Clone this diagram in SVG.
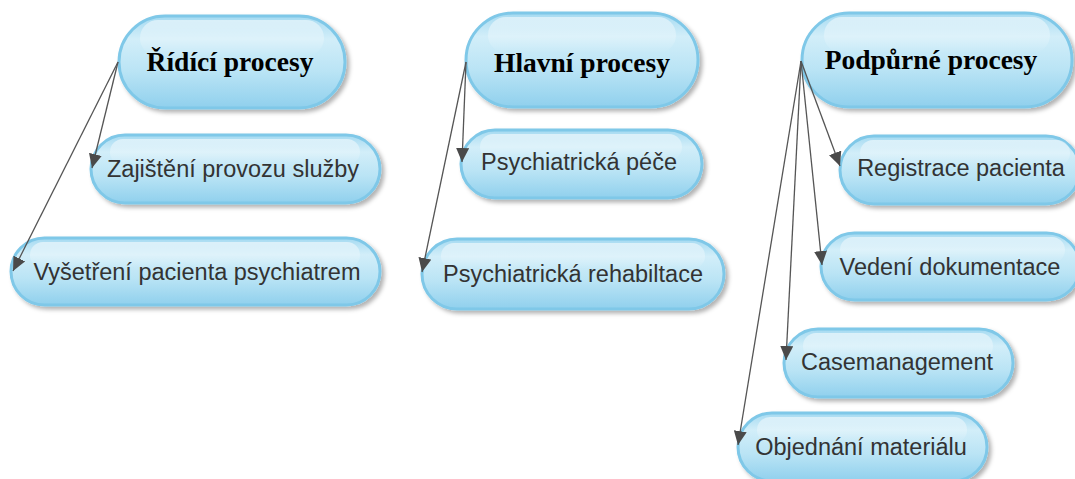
<svg xmlns="http://www.w3.org/2000/svg" width="1075" height="479" viewBox="0 0 1075 479">
  <style>
    .pill { fill: url(#pillFill); stroke: #7fc8e8; stroke-width: 3; filter: url(#shadow); }
    .gloss { fill: url(#glossFill); }
    .head { font-family: "Liberation Serif", "Times New Roman", serif; font-weight: bold; font-size: 27.5px; fill: #000; text-anchor: middle; }
    .label { font-family: "Liberation Sans", Arial, sans-serif; font-size: 23.5px; fill: #333; text-anchor: middle; }
    .edge { stroke: #555; stroke-width: 1.3; fill: none; marker-end: url(#arrow); }
  </style>
  <defs>
    <linearGradient id="pillFill" x1="0" y1="0" x2="0" y2="1">
      <stop offset="0" stop-color="#a5daf1"/>
      <stop offset="0.25" stop-color="#d2eef9"/>
      <stop offset="0.6" stop-color="#bae4f5"/>
      <stop offset="1" stop-color="#90d0ed"/>
    </linearGradient>
    <linearGradient id="glossFill" x1="0" y1="0" x2="0" y2="1">
      <stop offset="0" stop-color="#ffffff" stop-opacity="0.55"/>
      <stop offset="1" stop-color="#ffffff" stop-opacity="0"/>
    </linearGradient>
    <filter id="shadow" x="-10%" y="-20%" width="125%" height="150%">
      <feDropShadow dx="3" dy="3" stdDeviation="2" flood-color="#000" flood-opacity="0.3"/>
    </filter>
    <marker id="arrow" markerUnits="userSpaceOnUse" markerWidth="15" markerHeight="13" refX="14" refY="6.5" orient="auto">
      <path d="M0,0 L14,6.5 L0,13 z" fill="#4a4a4a"/>
    </marker>
  </defs>

  <!-- top-level processes -->
  <g id="ridici">
    <rect class="pill" x="119" y="16" width="226" height="92" rx="46"/>
    <rect class="gloss" x="140" y="20" width="184" height="36" rx="18"/>
    <text class="head" x="230" y="71">Řídící procesy</text>
  </g>
  <g id="hlavni">
    <rect class="pill" x="466" y="13" width="232" height="94" rx="47"/>
    <rect class="gloss" x="488" y="17" width="188" height="36" rx="18"/>
    <text class="head" x="582" y="72">Hlavní procesy</text>
  </g>
  <g id="podpurne">
    <rect class="pill" x="802" y="13" width="270" height="94" rx="47"/>
    <rect class="gloss" x="824" y="17" width="226" height="36" rx="18"/>
    <text class="head" x="931" y="69">Podpůrné procesy</text>
  </g>

  <!-- sub-processes -->
  <g id="zajisteni">
    <rect class="pill" x="91" y="135" width="289" height="68" rx="34"/>
    <rect class="gloss" x="110" y="139" width="250" height="26" rx="13"/>
    <text class="label" x="233" y="177">Zajištění provozu služby</text>
  </g>
  <g id="vysetreni">
    <rect class="pill" x="11" y="238" width="369" height="67" rx="33.5"/>
    <rect class="gloss" x="30" y="242" width="330" height="26" rx="13"/>
    <text class="label" x="197" y="280">Vyšetření pacienta psychiatrem</text>
  </g>
  <g id="pece">
    <rect class="pill" x="461" y="130" width="241" height="68" rx="34"/>
    <rect class="gloss" x="480" y="134" width="202" height="26" rx="13"/>
    <text class="label" x="579" y="170">Psychiatrická péče</text>
  </g>
  <g id="rehabilitace">
    <rect class="pill" x="422" y="239" width="302" height="70" rx="35"/>
    <rect class="gloss" x="441" y="243" width="264" height="26" rx="13"/>
    <text class="label" x="573" y="282">Psychiatrická rehabiltace</text>
  </g>
  <g id="registrace">
    <rect class="pill" x="840" y="136" width="240" height="68" rx="34"/>
    <rect class="gloss" x="860" y="140" width="210" height="26" rx="13"/>
    <text class="label" x="961" y="176">Registrace pacienta</text>
  </g>
  <g id="dokumentace">
    <rect class="pill" x="821" y="233" width="259" height="67" rx="33.5"/>
    <rect class="gloss" x="840" y="237" width="225" height="26" rx="13"/>
    <text class="label" x="950" y="275">Vedení dokumentace</text>
  </g>
  <g id="casemanagement">
    <rect class="pill" x="784" y="329" width="229" height="68" rx="34"/>
    <rect class="gloss" x="803" y="333" width="190" height="26" rx="13"/>
    <text class="label" x="897" y="370">Casemanagement</text>
  </g>
  <g id="objednani">
    <rect class="pill" x="738" y="413" width="249" height="68" rx="34"/>
    <rect class="gloss" x="757" y="417" width="210" height="26" rx="13"/>
    <text class="label" x="861" y="455">Objednání materiálu</text>
  </g>

  <!-- connectors -->
  <g id="connectors">
    <line class="edge" x1="118" y1="62" x2="92" y2="168"/>
    <line class="edge" x1="118" y1="62" x2="13" y2="271"/>
    <line class="edge" x1="466" y1="62" x2="462" y2="162"/>
    <line class="edge" x1="466" y1="62" x2="422" y2="272"/>
    <line class="edge" x1="801" y1="61" x2="840" y2="166"/>
    <line class="edge" x1="801" y1="61" x2="822" y2="265"/>
    <line class="edge" x1="801" y1="61" x2="786" y2="360"/>
    <line class="edge" x1="801" y1="61" x2="738" y2="445"/>
  </g>
</svg>
